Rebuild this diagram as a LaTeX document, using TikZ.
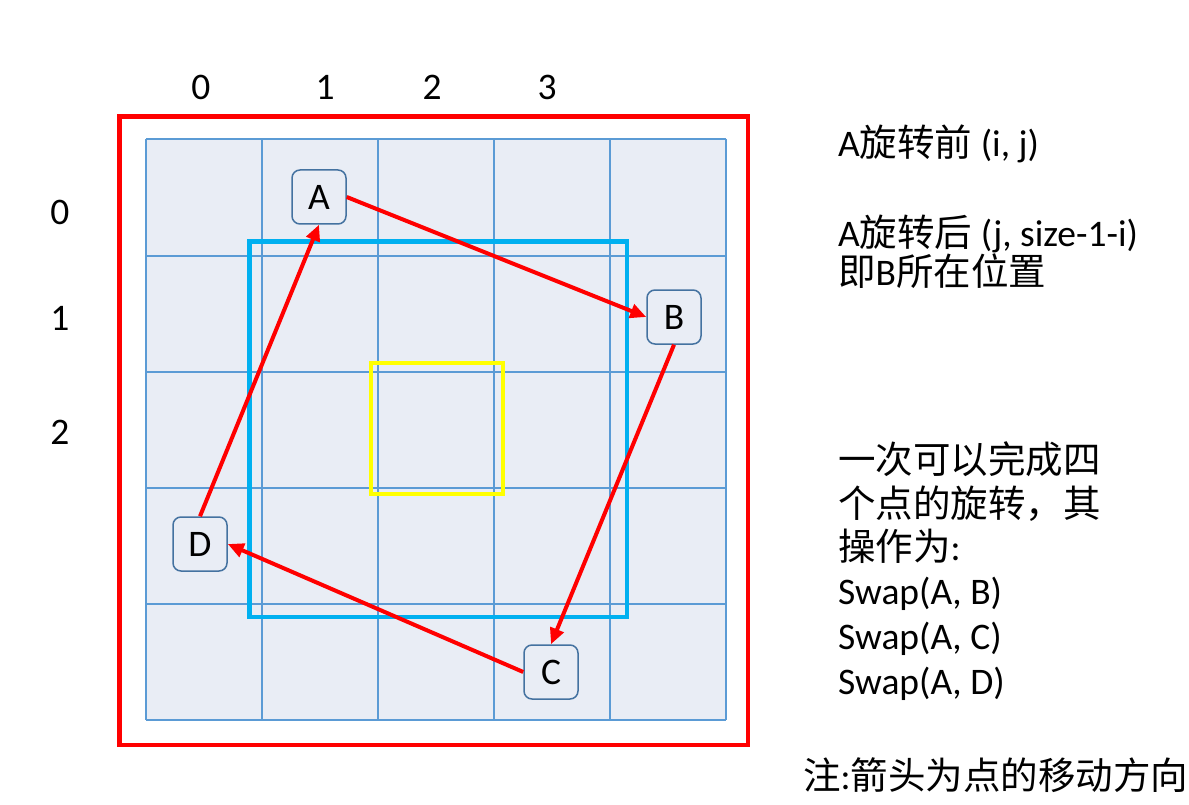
\documentclass[tikz,border=0pt]{standalone}
\usepackage{fontspec}
\setmainfont{Carlito}
\newfontfamily\cjk{Noto Sans CJK SC}
\usetikzlibrary{arrows.meta}
\definecolor{gridline}{RGB}{91,155,213}
\definecolor{gridfill}{RGB}{233,237,245}
\definecolor{ringblue}{RGB}{0,176,240}
\definecolor{ringred}{RGB}{255,0,0}
\definecolor{ringyellow}{RGB}{255,255,0}
\definecolor{nodeborder}{RGB}{68,114,160}
\tikzset{
  pointbox/.style={draw=nodeborder, line width=1.5pt, fill=gridfill, rounded corners=8pt,
    minimum width=54pt, minimum height=54pt, inner sep=0pt, font=\fontsize{37.5}{42}\selectfont},
  move/.style={draw=ringred, line width=4pt, -{Triangle[length=16pt,width=14pt]}},
  label/.style={inner sep=0pt, font=\fontsize{37.5}{42}\selectfont},
  line/.style={inner sep=0pt, anchor=base west, font=\fontsize{37.5}{42}\selectfont},
}
\begin{document}
\begin{tikzpicture}[x=1pt,y=-1pt]
\path[use as bounding box] (0,0) rectangle (1189,805);
% grid
\fill[gridfill] (146,139) rectangle (726,720);
\foreach \v in {146,262,378,494,610,726} {
  \draw[gridline, line width=2pt] (\v,139) -- (\v,720);
}
\foreach \h in {139,256,372,488,604,720} {
  \draw[gridline, line width=2pt] (146,\h) -- (726,\h);
}
% rings
\draw[ringred, line width=4.5pt] (119.5,116.5) rectangle (748,745);
\draw[ringblue, line width=4.5pt] (249.5,241.5) rectangle (627,617);
\draw[ringyellow, line width=4pt] (371,363) rectangle (503,494);
% index labels
\node[label] (c0) at (201,87) {0};
\node[label] (c1) at (325,87) {1};
\node[label] (c2) at (432,87) {2};
\node[label] (c3) at (547,87) {3};
\node[label] (r0) at (60,212) {0};
\node[label] (r1) at (60,318) {1};
\node[label] (r2) at (60,432) {2};
% points
\node[pointbox] (A) at (319,197) {A};
\node[pointbox] (B) at (674,317) {B};
\node[pointbox] (C) at (551,672) {C};
\node[pointbox] (D) at (200,544) {D};
% arrows
\draw[move] (A.east) -- (B.west);
\draw[move] (B.south) -- (C.north);
\draw[move] (C.west) -- (D.east);
\draw[move] (D.north) -- (A.south);
% text
\node[line] (t1) at (838,157) {A{\cjk 旋转前} (i, j)};
\node[line, align=left, font=\fontsize{37.5}{37}\selectfont] (t2) at (838,286)
  {A{\cjk 旋转后} (j, size-1-i)\\{\cjk 即}B{\cjk 所在位置}};
\node[line] (t4) at (838,473) {\cjk 一次可以完成四};
\node[line] (t5) at (838,517) {\cjk 个点的旋转，其};
\node[line] (t6) at (838,560) {{\cjk 操作为}:};
\node[line] (t7) at (838,604) {Swap(A, B)};
\node[line] (t8) at (838,649) {Swap(A, C)};
\node[line] (t9) at (838,694) {Swap(A, D)};
\node[line] (note) at (803,789) {{\cjk 注}:{\cjk 箭头为点的移动方向}};
\end{tikzpicture}
\end{document}
